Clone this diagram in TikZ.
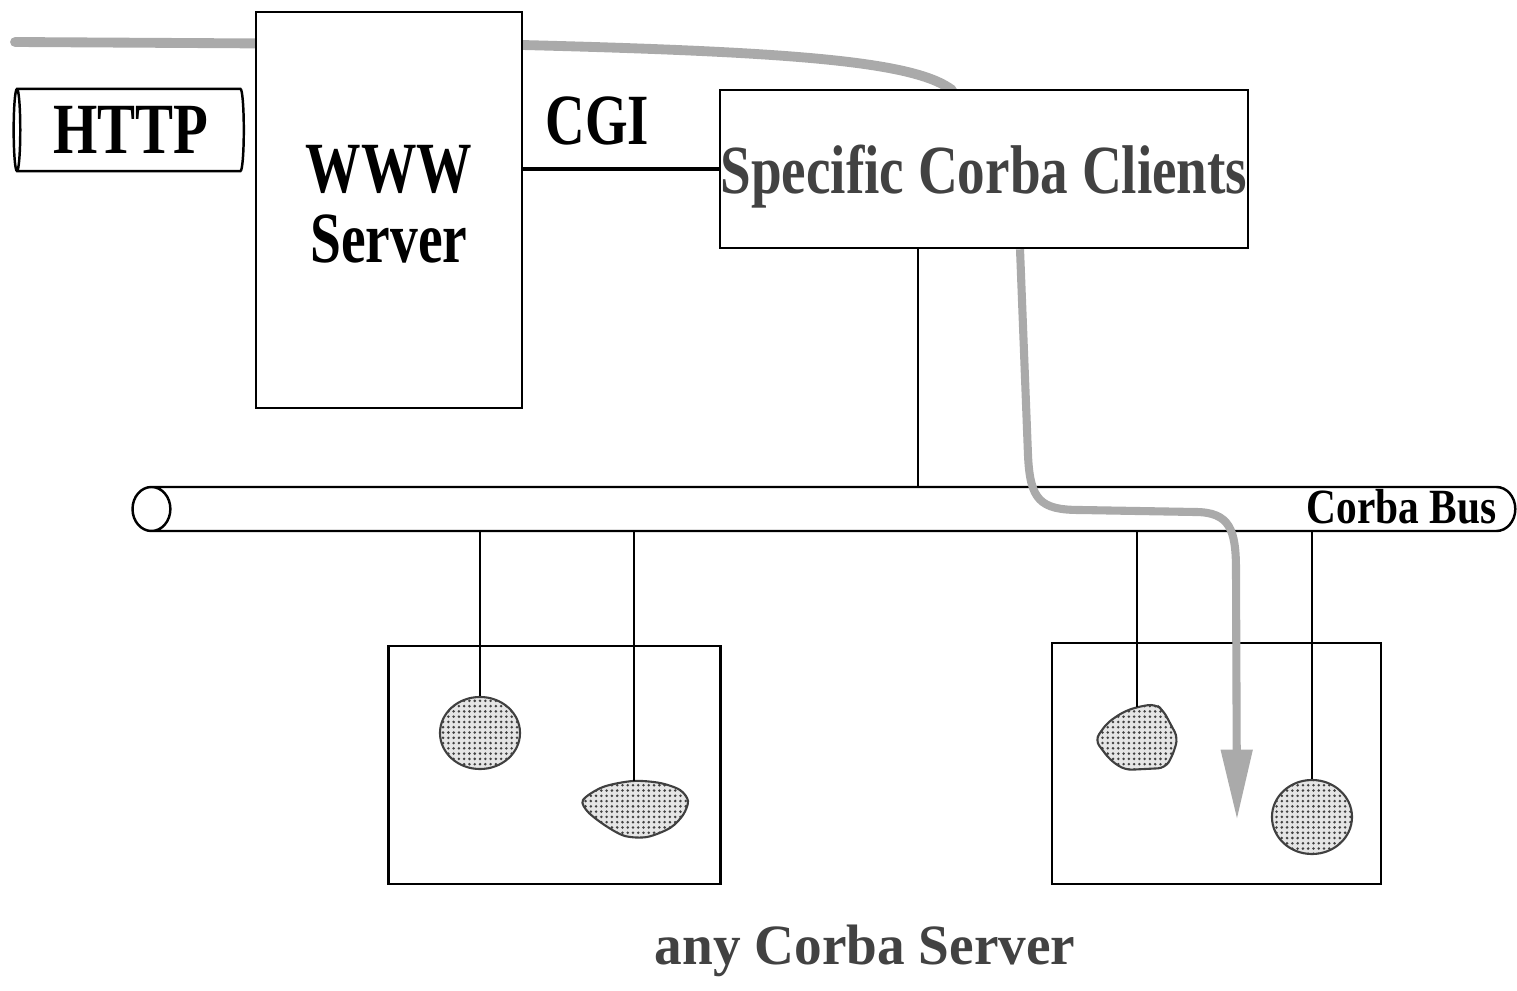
\documentclass[tikz,border=0pt]{standalone}
\usepackage{fontspec}
\setmainfont{Liberation Serif}
\usetikzlibrary{shapes.geometric,arrows.meta,patterns,positioning}

\definecolor{flowgray}{RGB}{170,170,170}
\definecolor{labelgray}{RGB}{66,66,66}
\newcommand{\narrow}[2][0.78]{\scalebox{#1}[1]{#2}}
\pgfdeclarepatternformonly{finedots}{\pgfqpoint{-0.5pt}{-0.5pt}}{\pgfqpoint{0.5pt}{0.5pt}}%
    {\pgfqpoint{1.5pt}{1.5pt}}{\pgfpathcircle{\pgfqpoint{0pt}{0pt}}{0.4pt}\pgfusepath{fill}}

\tikzstyle{box} = [draw, fill=white, rectangle, line width=0.7pt, inner sep=0pt]
\tikzstyle{pipe} = [draw, fill=white, cylinder, shape border rotate=180,
    line width=0.7pt, inner sep=0pt]
\tikzstyle{blob} = [draw=black!75, line width=0.6pt, preaction={fill=black!10},
    pattern=finedots, pattern color=black!75]
\tikzstyle{flow} = [draw=flowgray, line width=2.8pt]
\tikzstyle{wire} = [draw, line width=0.6pt]
\tikzstyle{big} = [font=\fontsize{20.5}{20}\selectfont\bfseries]

\begin{document}
\begin{tikzpicture}[x=0.01cm, y=-0.01cm]
    \useasboundingbox (0,0) rectangle (1517,991);
    % request path from the browser, behind the boxes
    \coordinate (browser) at (15,42);
    \coordinate (entry) at (952,90);
    \draw [flow, line cap=round] (browser) -- (522,45)
        .. controls (800,52) and (915,62) .. (entry);

    \node [pipe, aspect=0.14, minimum height=2.3cm, minimum width=0.82cm, big] (http) at (131,130) {\narrow[0.79]{HTTP}};
    \node [box, minimum width=2.66cm, minimum height=3.96cm, align=center, big, text depth=0.12cm] (www) at (389,210) {\narrow[0.77]{WWW}\\\narrow[0.77]{Server}};
    \node [box, minimum width=5.28cm, minimum height=1.58cm, text=labelgray,
        font=\fontsize{19.6}{20}\selectfont\bfseries, text height=0.63cm, text depth=0.15cm] (clients) at (984,169) {\narrow[0.8]{Specific Corba Clients}};
    \draw [line width=1.1pt] (clients.west -| www.east) --
        node [above=0.22cm, pos=0.38, inner sep=0pt, big] (cgi) {\narrow[0.76]{CGI}} (clients.west);

    % the bus
    \node [pipe, aspect=0.86, minimum height=13.82cm, minimum width=0.44cm,
        text height=0.44cm, text depth=0pt] (bus) at (834,509) {};
    \node [anchor=east, inner sep=0pt, font=\fontsize{14}{14}\selectfont\bfseries] (buslabel) at (1497,507) {\narrow[0.84]{Corba Bus}};
    \draw [wire] ([xshift=-0.66cm]clients.south) -- ([xshift=-0.66cm]clients.south |- bus.north);

    % servers
    \node [box, minimum width=3.32cm, minimum height=2.38cm] (srvA) at (554.5,765) {};
    \node [box, minimum width=3.29cm, minimum height=2.41cm] (srvB) at (1216.5,763.5) {};

    \node [blob, ellipse, minimum width=0.8cm, minimum height=0.72cm] (objA) at (480,733) {};
    \draw [blob] plot [smooth cycle, tension=0.5] coordinates {(583,800) (603,787) (633,781) (660,783) (680,790) (688,801) (683,815) (670,828) (647,837) (625,836) (606,826) (588,812)};
    \coordinate (objB) at (634,781);
    \draw [blob, rounded corners=2pt] (1095,740) -- (1107,723) -- (1123,712) -- (1137,707) -- (1155,704)
        -- (1163,710) -- (1178,738) -- (1172,757) -- (1165,768) -- (1125,770) -- (1110,760) -- cycle;
    \coordinate (objC) at (1137,707);
    \node [blob, ellipse, minimum width=0.8cm, minimum height=0.74cm] (objD) at (1312,817) {};

    \draw [wire] (objA.north |- bus.south) -- (objA.north);
    \draw [wire] (objB |- bus.south) -- (objB);
    \draw [wire] (objC |- bus.south) -- (objC);
    \draw [wire] (objD.north |- bus.south) -- (objD.north);

    \node [text=labelgray, font=\fontsize{16.2}{16}\selectfont\bfseries] (anyserver) at (865,951) {\narrow[0.97]{any Corba Server}};

    % invocation path through the bus
    \coordinate (target) at (1237,820);
    \draw [flow, line width=2.3pt, -{Triangle[length=20pt,width=8.5pt]}]
        ([xshift=0.36cm]clients.south) -- (1028,455)
        .. controls (1030,500) and (1040,510) .. (1080,510) -- (1195,512)
        .. controls (1230,512) and (1236,530) .. (1236,570) -- (target);
\end{tikzpicture}
\end{document}
